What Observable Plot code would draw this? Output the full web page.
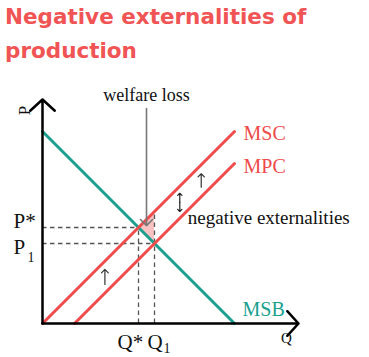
<!DOCTYPE html>
<html>
<head>
<meta charset="utf-8">
<script src="https://cdn.jsdelivr.net/npm/d3@7"></script>
<script src="https://cdn.jsdelivr.net/npm/@observablehq/plot@0.6"></script>
<style>
  body { margin: 0; background: #fff; }
  #title { font: bold 21.5px "DejaVu Sans"; color: #f05454; line-height: 34px; padding-left: 5px; height: 70px; }
  #chart svg { display: block; }
</style>
</head>
<body>
<div id="title">Negative externalities of<br>production</div>
<div id="chart"></div>
<script>
// ---- data ----
const msb = [{q: 0, p: 6}, {q: 6, p: 0}];      // marginal social benefit
const msc = [{q: 0, p: 0}, {q: 6, p: 6}];      // marginal social cost
const mpc = [{q: 1, p: 0}, {q: 6, p: 5}];      // marginal private cost
const eqQ = [3, 3.5];                          // Q*, Q1
const eqP = [3, 2.5];                          // P*, P1
const welfareLoss = [{q: 3.25, top: 6.72, tip: 3.06}];
const shiftArrows = [{q: 1.95, p1: 1.22, p2: 1.69}, {q: 4.96, p1: 4.26, p2: 4.68}];
const externalityArrow = [{q: 4.29, p1: 3.5, p2: 4.07}];
const axisMax = {q: 8, p: 7};
const curveNames = ["MSC", "MPC", "MSB"];

// ---- helpers ----
const at = (line, q) => {
  const [a, b] = line;
  return a.p + (b.p - a.p) * (q - a.q) / (b.q - a.q);
};
const last = (line) => line[line.length - 1];
const red = "#ee4b4b", teal = "#1a9f8f", ink = "#111";

const triangle = eqQ.map(q => ({q, lo: at(msb, q), hi: at(msc, q)}));
const hDash = eqQ.map((q, i) => ({q, p: eqP[i]}));
const vDash = eqQ.map(q => ({q, top: at(msc, q)}));
const axes = [{x1: 0, y1: 0, x2: 0, y2: axisMax.p}, {x1: 0, y1: 0, x2: axisMax.q, y2: 0}];
const extUp = externalityArrow.map(d => ({q: d.q, from: (d.p1 + d.p2) / 2, to: d.p2}));
const extDown = externalityArrow.map(d => ({q: d.q, from: (d.p1 + d.p2) / 2, to: d.p1}));

const serif = "Liberation Serif";

const chart = Plot.plot({
  width: 369,
  height: 287,
  marginLeft: 42,
  marginRight: 71,
  marginTop: 29,
  marginBottom: 34,
  x: {domain: [0, axisMax.q], axis: null},
  y: {domain: [0, axisMax.p], axis: null},
  style: {fontFamily: serif, overflow: "visible", background: "white"},
  marks: [
    Plot.areaY(triangle, {x: "q", y1: "lo", y2: "hi", fill: "#f8c2c2"}),
    Plot.ruleY(hDash, {y: "p", x1: () => 0, x2: "q", stroke: "#555", strokeWidth: 1.3, strokeDasharray: "4.5,3.5"}),
    Plot.ruleX(vDash, {x: "q", y1: () => 0, y2: "top", stroke: "#555", strokeWidth: 1.3, strokeDasharray: "4.5,3.5"}),
    Plot.line(msb, {x: "q", y: "p", stroke: teal, strokeWidth: 3}),
    Plot.line(msc, {x: "q", y: "p", stroke: red, strokeWidth: 3}),
    Plot.line(mpc, {x: "q", y: "p", stroke: red, strokeWidth: 3}),
    Plot.arrow(welfareLoss, {x1: "q", x2: "q", y1: "top", y2: "tip", stroke: "#777", strokeWidth: 1.6, headLength: 8, headAngle: 90}),
    Plot.arrow(shiftArrows, {x1: "q", x2: "q", y1: "p1", y2: "p2", stroke: "#333", strokeWidth: 1.2, headLength: 6, headAngle: 90}),
    Plot.arrow(extUp, {x1: "q", x2: "q", y1: "from", y2: "to", stroke: "#222", strokeWidth: 1.2, headLength: 6, headAngle: 90}),
    Plot.arrow(extDown, {x1: "q", x2: "q", y1: "from", y2: "to", stroke: "#222", strokeWidth: 1.2, headLength: 6, headAngle: 90}),
    Plot.arrow(axes, {x1: "x1", y1: "y1", x2: "x2", y2: "y2", stroke: "#000", strokeWidth: 2.5, headLength: 10, headAngle: 95}),
    // curve labels
    Plot.text([last(msc)], {x: "q", y: "p", text: () => curveNames[0], textAnchor: "start", dx: 9, dy: 2, fontSize: 20, fill: red}),
    Plot.text([last(mpc)], {x: "q", y: "p", text: () => curveNames[1], textAnchor: "start", dx: 9, dy: 3, fontSize: 20, fill: red}),
    Plot.text([last(msb)], {x: "q", y: "p", text: () => curveNames[2], textAnchor: "start", dx: 8, dy: -14, fontSize: 20, fill: teal}),
    // annotations
    Plot.text(welfareLoss, {x: "q", y: "top", text: () => "welfare loss", textAnchor: "middle", dy: -13, fontSize: 18, fill: ink}),
    Plot.text(externalityArrow, {x: "q", y: "p1", text: () => "negative externalities", textAnchor: "start", dx: 8, dy: 6, fontSize: 19, fill: ink}),
    // price labels
    Plot.text([{p: eqP[0]}], {x: () => 0, y: "p", text: () => "P*", textAnchor: "start", dx: -29, dy: -6.7, fontSize: 21, fill: ink}),
    Plot.text([{p: eqP[1]}], {x: () => 0, y: "p", text: () => "P", textAnchor: "start", dx: -29, dy: 3.3, fontSize: 21, fill: ink}),
    Plot.text([{p: eqP[1]}], {x: () => 0, y: "p", text: () => "1", textAnchor: "start", dx: -15, dy: 14.5, fontSize: 14, fill: ink}),
    // quantity labels
    Plot.text([{q: eqQ[0]}], {x: "q", y: () => 0, text: () => "Q*", textAnchor: "start", dx: -21, dy: 18.3, fontSize: 21, fill: ink}),
    Plot.text([{q: eqQ[1]}], {x: "q", y: () => 0, text: () => "Q", textAnchor: "start", dx: -7, dy: 18.3, fontSize: 21, fill: ink}),
    Plot.text([{q: eqQ[1]}], {x: "q", y: () => 0, text: () => "1", textAnchor: "start", dx: 9, dy: 25.5, fontSize: 14, fill: ink}),
    // axis labels
    Plot.text([axisMax], {x: "q", y: () => 0, text: () => "Q", textAnchor: "middle", dx: -12, dy: 15, fontSize: 15, fill: ink}),
    Plot.text([axisMax], {x: () => 0, y: "p", text: () => "P", textAnchor: "middle", rotate: -90, dx: -18, dy: 11, fontSize: 17, fill: ink})
  ]
});
document.getElementById("chart").appendChild(chart);
</script>
</body>
</html>
